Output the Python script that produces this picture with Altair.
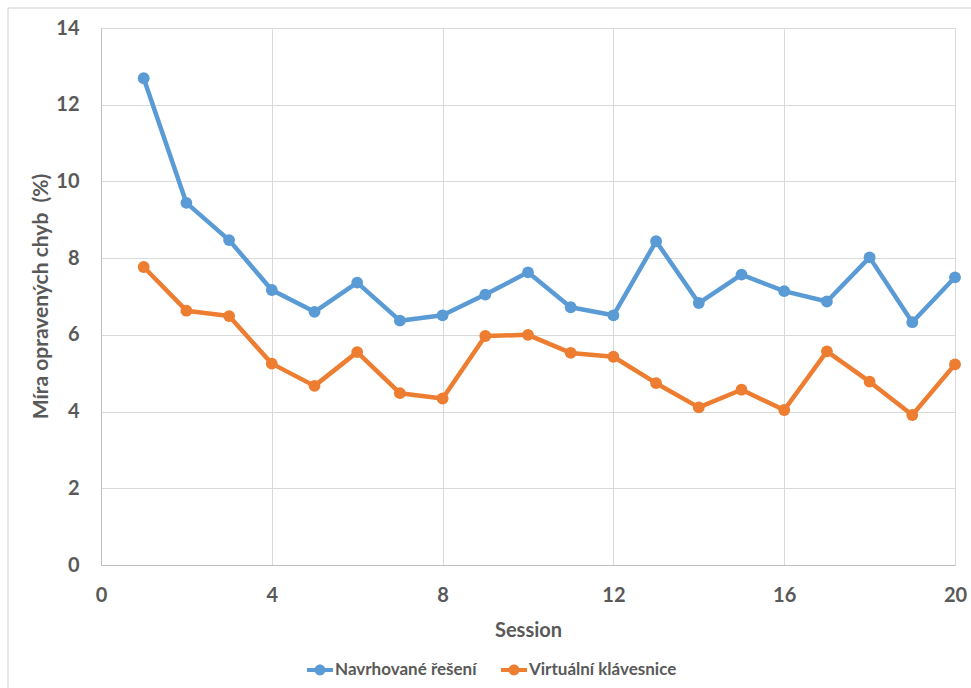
import altair as alt
import pandas as pd

# Error-correction rate per session for the two input methods
sessions = [1, 2, 3, 4, 5, 6, 7, 8, 9, 10, 11, 12, 13, 14, 15, 16, 17, 18, 19, 20]
navrhovane = [12.69, 9.44, 8.47, 7.17, 6.60, 7.36, 6.37, 6.51, 7.05, 7.63,
              6.72, 6.51, 8.44, 6.83, 7.57, 7.14, 6.87, 8.02, 6.33, 7.50]
virtualni = [7.77, 6.63, 6.49, 5.25, 4.67, 5.55, 4.48, 4.34, 5.97, 6.00,
             5.53, 5.43, 4.74, 4.11, 4.57, 4.04, 5.57, 4.78, 3.91, 5.23]
series_names = ["Navrhované řešení", "Virtuální klávesnice"]
series_colors = ["#5B9BD5", "#ED7D31"]
x_ticks = [0, 4, 8, 12, 16, 20]
y_ticks = [0, 2, 4, 6, 8, 10, 12, 14]

df = pd.DataFrame(
    {"Session": sessions * 2,
     "Hodnota": navrhovane + virtualni,
     "Řada": [series_names[0]] * len(sessions) + [series_names[1]] * len(sessions)}
)

FONT = "Lato"
TEXT = "#595959"
GRID = "#D9D9D9"

# legend glyph: short thick line with a dot in the middle
legend_glyph = (
    "M-1,-0.15 L-0.3,-0.15 L-0.3,0.15 L-1,0.15 Z "
    "M0.3,-0.15 L1,-0.15 L1,0.15 L0.3,0.15 Z "
    "M-0.42,0 A0.42,0.42 0 1,1 0.42,0 A0.42,0.42 0 1,1 -0.42,0 Z"
)

lines = alt.Chart(df).mark_line(
    strokeWidth=4.5, strokeJoin="round",
    point=alt.OverlayMarkDef(filled=True, size=140, opacity=1),
).encode(
    x=alt.X("Session:Q",
            scale=alt.Scale(domain=[0, 20], nice=False),
            axis=alt.Axis(values=x_ticks, title="Session", labelPadding=20,
                          labelFlush=False, titleFontSize=20,
                          titleY=71, titleBaseline="alphabetic")),
    y=alt.Y("Hodnota:Q",
            scale=alt.Scale(domain=[0, 14], nice=False),
            axis=alt.Axis(values=y_ticks, title="Míra opravených chyb\u00a0\u00a0(%)",
                          labelPadding=22, labelFlush=False,
                          titleX=-54, titleY=268, titleFontSize=21,
                          titleBaseline="alphabetic", titleAngle=270)),
    color=alt.Color("Řada:N",
                    scale=alt.Scale(domain=series_names, range=series_colors),
                    legend=alt.Legend(title=None, orient="none", direction="horizontal",
                                      legendX=206, legendY=629,
                                      symbolType=legend_glyph, symbolSize=676,
                                      symbolStrokeWidth=0,
                                      labelOffset=2, columnPadding=24,
                                      labelFont=FONT, labelFontSize=17,
                                      labelFontWeight="bold", labelColor=TEXT)),
    order=alt.Order("Session:Q"),
)

# thin outer frame of the chart
frame_top = alt.Chart(alt.Data(values=[{}])).mark_rule(color="#D0D0D0", strokeWidth=1).encode(
    x=alt.value(-93), x2=alt.value(880), y=alt.value(-20)
)
frame_left = alt.Chart(alt.Data(values=[{}])).mark_rule(color="#D0D0D0", strokeWidth=1).encode(
    x=alt.value(-93), y=alt.value(-20), y2=alt.value(700)
)

chart = alt.layer(frame_top, frame_left, lines).properties(
    width=854, height=537,
    autosize=alt.AutoSizeParams(type="none"),
    padding={"left": 101, "top": 28, "right": 16, "bottom": 123},
    background="white",
).configure_axis(
    labelFont=FONT, labelFontSize=20, labelFontWeight="bold", labelColor=TEXT,
    titleFont=FONT, titleFontSize=19, titleFontWeight="bold", titleColor=TEXT,
    gridColor=GRID, gridWidth=1, domainColor="#BFBFBF", domainWidth=1,
    ticks=False,
).configure_view(strokeWidth=0)

chart.save("out.html", embed_options={"renderer": "svg", "actions": False})
